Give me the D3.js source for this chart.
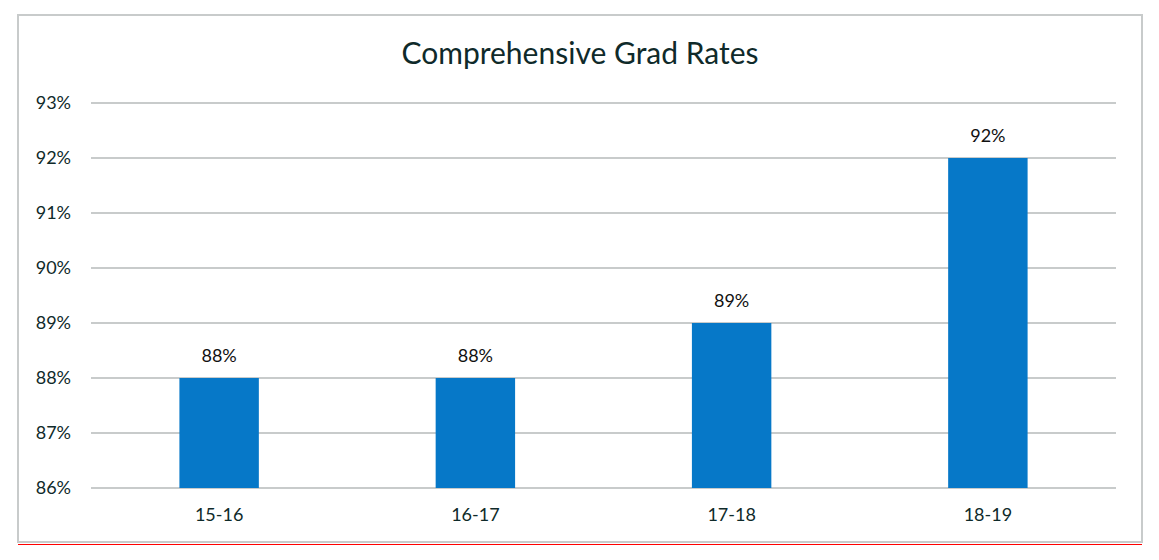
<!DOCTYPE html>
<html><head><meta charset="utf-8">
<script src="https://cdn.jsdelivr.net/npm/d3@7"></script>
<style>body{margin:0;background:#fff;}svg{display:block;}</style>
</head><body>
<svg id="c" width="1159" height="560"></svg>
<script>
const categories = ["15-16","16-17","17-18","18-19"];
const values = [88, 88, 89, 92];
const yTicks = [86, 87, 88, 89, 90, 91, 92, 93];
const title = "Comprehensive Grad Rates";

const svg = d3.select("#c");
const font = "Lato, 'Open Sans', sans-serif";
const textCol = "#0f2a2a";

// frame
svg.append("rect").attr("x",18).attr("y",15).attr("width",1124).attr("height",527)
  .attr("fill","#fff").attr("stroke","#c8cbcb").attr("stroke-width",2);
svg.append("line").attr("x1",18).attr("x2",1142).attr("y1",544.5).attr("y2",544.5)
  .attr("stroke","#ff0000").attr("stroke-width",1.2);

const x = d3.scaleBand().domain(categories).range([91,1116]).paddingInner(0.69).paddingOuter(0.345);
const y = d3.scaleLinear().domain([86,93]).range([488,103]);

// gridlines
svg.append("g").selectAll("line").data(yTicks).join("line")
  .attr("x1",91).attr("x2",1116).attr("y1",d=>y(d)).attr("y2",d=>y(d))
  .attr("stroke","#c8cbcb").attr("stroke-width",2);

// y axis labels
const yAxis = d3.axisLeft(y).tickValues(yTicks).tickFormat(d=>d+"%").tickSize(0).tickPadding(20);
const ya = svg.append("g").attr("transform","translate(91,0)").call(yAxis);
ya.select(".domain").remove();
ya.selectAll("text").attr("font-family",font).attr("font-size",18).attr("fill",textCol);

// bars
svg.append("g").selectAll("rect").data(values).join("rect")
  .attr("x",(d,i)=>x(categories[i])).attr("width",x.bandwidth())
  .attr("y",d=>y(d)).attr("height",d=>y(86)-y(d)).attr("fill","#0678c8");

// data labels
svg.append("g").selectAll("text").data(values).join("text")
  .attr("x",(d,i)=>x(categories[i])+x.bandwidth()/2).attr("y",d=>y(d)-16)
  .attr("text-anchor","middle").attr("font-family",font).attr("font-size",18)
  .attr("fill","#111").text(d=>d+"%");

// x axis labels
const xAxis = d3.axisBottom(x).tickSize(0).tickPadding(20);
const xa = svg.append("g").attr("transform","translate(0,488)").call(xAxis);
xa.select(".domain").remove();
xa.selectAll("text").attr("font-family",font).attr("font-size",18).attr("fill",textCol);

// title
svg.append("text").attr("x",580).attr("y",64).attr("text-anchor","middle")
  .attr("font-family",font).attr("font-size",30).attr("fill",textCol).text(title);
</script>
</body></html>
